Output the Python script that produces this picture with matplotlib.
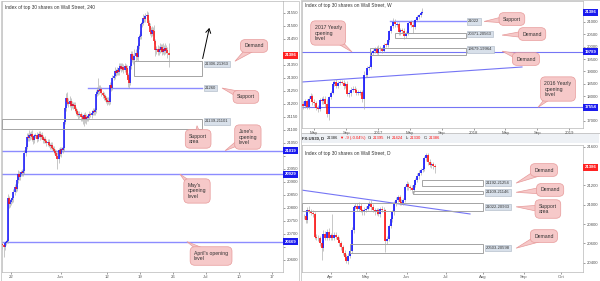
import numpy as np
import pandas as pd
import matplotlib
matplotlib.use("Agg")
import matplotlib.pyplot as plt
import matplotlib.dates as mdates
from matplotlib.transforms import blended_transform_factory, IdentityTransform
from matplotlib.patches import Rectangle, Polygon

plt.rcParams['font.family'] = ['Liberation Sans', 'DejaVu Sans']

# ------------------------------------------------------------------ data
TITLE = "Index of top 30 shares on Wall Street"

# 4-hour candles (open of first bar, then closes; wick sizes above/below body)
h4_open0 = 20660
h4_close = [
    20655, 20648, 20662, 20668, 20672, 20835, 20812, 20820, 20828, 20835,
    20858, 20880, 20872, 20905, 20930, 20918, 20928, 20935, 20932, 20940,
    21010, 21035, 21072, 21068, 21080, 21074, 21082, 21070, 21060, 21075,
    21078, 21065, 21080, 21084, 21072, 21078, 21070, 21060, 21062, 21055,
    21048, 21052, 21040, 21036, 21042, 21030, 21026, 21018, 21010, 21000,
    20985, 21020, 21008, 21025, 21020, 21028, 21130, 21185, 21222, 21205,
    21198, 21210, 21192, 21200, 21190, 21195, 21178, 21170, 21162, 21155,
    21160, 21150, 21148, 21140, 21155, 21138, 21150, 21145, 21152, 21160,
    21158, 21165, 21172, 21168, 21175, 21238, 21245, 21252, 21248, 21255,
    21240, 21232, 21228, 21222, 21215, 21205, 21212, 21208, 21270, 21262,
    21300, 21305, 21325, 21318, 21330, 21322, 21338, 21345, 21335, 21342,
    21330, 21345, 21338, 21310, 21290, 21280, 21345, 21392, 21372, 21368,
    21385, 21395, 21378, 21420, 21455, 21462, 21505, 21512, 21530, 21525,
    21538, 21542, 21510, 21500, 21475, 21468, 21482, 21478, 21440, 21405,
    21410, 21398, 21412, 21405, 21418, 21400, 21410, 21402, 21415, 21405,
    21395, 21386]
h4_upper = [
    8, 6, 10, 8, 6, 18, 10, 12, 8, 10,
    12, 10, 15, 20, 14, 12, 10, 8, 12, 10,
    10, 12, 15, 14, 20, 10, 12, 18, 10, 8,
    10, 12, 8, 10, 12, 10, 14, 8, 10, 12,
    8, 10, 12, 8, 10, 12, 8, 10, 8, 10,
    12, 10, 12, 8, 10, 8, 12, 10, 18, 22,
    15, 20, 12, 10, 8, 12, 10, 8, 10, 8,
    10, 8, 12, 10, 8, 12, 10, 8, 10, 12,
    8, 10, 12, 10, 8, 14, 18, 45, 20, 15,
    10, 8, 12, 10, 8, 10, 12, 8, 14, 12,
    10, 12, 15, 10, 12, 8, 18, 10, 12, 15,
    10, 12, 8, 10, 8, 12, 14, 10, 12, 20,
    25, 15, 30, 14, 12, 18, 10, 12, 15, 10,
    12, 14, 10, 12, 10, 20, 15, 12, 25, 10,
    12, 15, 10, 20, 12, 10, 25, 15, 20, 10,
    12, 38]
h4_lower = [
    15, 40, 10, 8, 6, 10, 12, 8, 10, 12,
    14, 10, 12, 8, 10, 12, 10, 8, 12, 10,
    12, 10, 8, 12, 10, 14, 10, 12, 15, 10,
    8, 12, 10, 8, 12, 10, 8, 12, 10, 8,
    12, 10, 8, 12, 10, 8, 10, 12, 8, 10,
    35, 12, 10, 12, 8, 10, 10, 8, 12, 10,
    12, 10, 15, 10, 12, 8, 10, 12, 10, 15,
    12, 18, 15, 20, 25, 12, 15, 10, 12, 10,
    10, 12, 8, 10, 12, 10, 8, 12, 10, 8,
    12, 10, 14, 10, 12, 10, 8, 12, 10, 12,
    10, 8, 12, 10, 8, 12, 10, 8, 12, 10,
    12, 10, 15, 10, 25, 18, 10, 12, 10, 15,
    12, 20, 10, 12, 10, 8, 12, 10, 8, 12,
    10, 12, 8, 10, 12, 10, 8, 12, 10, 20,
    15, 10, 12, 10, 8, 12, 10, 15, 10, 12,
    20, 45]
# number of 4h bars before each day label
h4_tick_labels = ["22", "Jun", "12", "19", "26", "Jul", "10", "17"]
h4_bars_between = [8, 45, 42, 30, 30, 30, 30, 30]

h4_month_opens = [21019, 20929, 20669]
h4_support = 21260
h4_demand = (21306, 21363)
h4_support_area = (21101, 21139)

# weekly candles
wk_start = "2016-03-14"
wk_open0 = 17550
wk_close = [
    17700, 17620, 17790, 17580, 17900, 18010, 17780, 17720, 17540, 17500,
    17860, 17800, 17870, 17680, 17300, 17950, 18150, 18500, 18570, 18430,
    18540, 18580, 18550, 18400, 18490, 18080, 18120, 18260, 18310, 18240,
    18140, 18150, 18160, 17880, 18850, 18870, 19150, 19170, 19760, 19840,
    19930, 19760, 19960, 19890, 19830, 20090, 20070, 20270, 20620, 20820,
    21000, 20900, 20910, 20600, 20660, 20650, 20450, 20550, 20940, 21000,
    20890, 20800, 21080, 21200, 21270, 21380, 21386]
wk_upper = [
    120, 100, 90, 110, 130, 120, 80, 100, 90, 110,
    80, 100, 120, 150, 200, 60, 80, 100, 90, 110,
    80, 70, 90, 110, 80, 120, 150, 100, 120, 90,
    110, 100, 80, 90, 150, 100, 80, 100, 60, 80,
    60, 80, 100, 90, 80, 70, 60, 50, 40, 60,
    170, 120, 100, 90, 110, 100, 120, 80, 60, 50,
    70, 150, 60, 80, 70, 60, 164]
wk_lower = [
    100, 120, 80, 110, 90, 100, 120, 100, 90, 130,
    80, 110, 100, 120, 150, 240, 80, 70, 90, 100,
    80, 90, 70, 100, 80, 90, 120, 100, 90, 80,
    100, 90, 110, 100, 410, 80, 90, 100, 60, 80,
    90, 70, 100, 80, 90, 60, 80, 70, 60, 50,
    80, 120, 100, 110, 130, 90, 120, 100, 80, 70,
    90, 250, 80, 60, 70, 80, 60]
wk_yearly_opens = [19789, 17554]
wk_support = 21022
wk_demand = [(20371, 20563), (19679, 19964)]
wk_trend = [("2016-03-16", 18576), ("2018-07-04", 19182)]
wk_tick_dates = ["2016-05-01", "2016-09-01", "2017-01-01", "2017-05-01", "2017-09-01",
                 "2018-01-01", "2018-05-01", "2018-09-01", "2019-01-01"]
wk_tick_labels = ["May", "Sep", "2017", "May", "Sep", "2018", "May", "Sep", "2019"]

# daily candles
d_start = "2017-03-13"
d_open0 = 20880
d_close = [
    20885, 20840, 20950, 20934, 20915, 20905, 20670, 20660, 20655, 20600,
    20550, 20700, 20660, 20720, 20660, 20690, 20660, 20690, 20670, 20640,
    20600, 20560, 20500, 20460, 20420, 20470, 20520, 20740, 20980, 20990,
    20960, 20985, 20940, 20920, 20950, 20960, 20990, 21020, 20980, 20950,
    20920, 20940, 20900, 20960, 20950, 20940, 20620, 20650, 20780, 20850,
    20920, 21010, 21050, 21080, 21030, 21020, 21050, 21180, 21210, 21180,
    21170, 21150, 21200, 21260, 21300, 21330, 21360, 21370, 21480, 21510,
    21440, 21410, 21420, 21395, 21386]
d_upper = [
    20, 30, 25, 35, 20, 30, 15, 25, 30, 20,
    25, 40, 30, 25, 35, 20, 210, 30, 25, 20,
    30, 25, 20, 30, 25, 30, 20, 25, 20, 30,
    25, 40, 30, 20, 25, 30, 25, 20, 30, 25,
    20, 30, 25, 20, 30, 25, 20, 30, 25, 20,
    30, 25, 30, 20, 25, 30, 20, 25, 30, 25,
    20, 30, 25, 20, 25, 30, 20, 25, 20, 25,
    20, 30, 25, 20, 29]
d_lower = [
    30, 25, 30, 20, 25, 30, 20, 25, 30, 30,
    120, 25, 30, 20, 25, 30, 25, 30, 20, 25,
    30, 25, 20, 30, 25, 30, 25, 20, 30, 25,
    30, 25, 20, 30, 25, 30, 20, 25, 30, 25,
    30, 25, 20, 30, 25, 30, 110, 25, 30, 20,
    25, 30, 25, 20, 30, 25, 20, 25, 30, 25,
    20, 30, 25, 20, 25, 30, 20, 25, 20, 30,
    25, 20, 30, 25, 56]
d_zones = [(21192, 21254), (21109, 21146), (20933, 21022), (20503, 20598)]
d_zone_labels = ["21192-21254", "21109-21146", "21022-20933", "20503-20598"]
d_trend = [(-1.7, 21152), (93.8, 20904)]

# ------------------------------------------------------------------ style
BLUE = "#1010ff"
RED = "#ff1010"
WICK = "#a8a8a8"
LEVEL = "#8c8cff"
BOX_EDGE = "#a4a4a4"
SPINE = "#b8b8b8"
TXT = "#333333"
PINK = "#f6c9c9"
PINK_EDGE = "#e79a9a"
TAG_BLUE = "#1a1aee"
TAG_RED = "#ff2222"

W, H = 600, 281
fig = plt.figure(figsize=(W / 100, H / 100), dpi=100)
fig.patch.set_facecolor("white")


def px_axes(x0, y0, x1, y1):
    """Axes from pixel box (top-left origin)."""
    return fig.add_axes([x0 / W, 1 - y1 / H, (x1 - x0) / W, (y1 - y0) / H])


def fig_rect(x0, y0, x1, y1, **kw):
    fig.patches.append(Rectangle((x0 / W, 1 - y1 / H), (x1 - x0) / W, (y1 - y0) / H,
                                 transform=fig.transFigure, figure=fig, **kw))


def ohlc(open0, close, upper, lower):
    c = np.asarray(close, float)
    o = np.concatenate([[open0], c[:-1]])
    hi = np.maximum(o, c) + np.asarray(upper, float)
    lo = np.minimum(o, c) - np.asarray(lower, float)
    return o, hi, lo, c


def candles(ax, x, o, hi, lo, c, body_lw, min_h, wick_lw=0.45):
    x = np.asarray(x, float)
    up = c >= o
    ax.vlines(x, lo, hi, color=WICK, lw=wick_lw, zorder=2)
    bot = np.minimum(o, c)
    top = np.maximum(o, c)
    short = (top - bot) < min_h
    mid = (top + bot) / 2
    bot = np.where(short, mid - min_h / 2, bot)
    top = np.where(short, mid + min_h / 2, top)
    ax.vlines(x[up], bot[up], top[up], color=BLUE, lw=body_lw, zorder=3,
              capstyle="butt")
    ax.vlines(x[~up], bot[~up], top[~up], color=RED, lw=body_lw, zorder=3,
              capstyle="butt")


def style_axes(ax, title, title_y=0.985):
    for s in ax.spines.values():
        s.set_color(SPINE)
        s.set_linewidth(0.5)
    ax.yaxis.tick_right()
    ax.tick_params(axis="y", length=1.2, width=0.4, pad=1.2, labelsize=3.1,
                   colors="#555555")
    ax.tick_params(axis="x", length=1.2, width=0.4, pad=0.8, labelsize=3.1,
                   colors="#555555")
    ax.text(0.011, title_y, title, transform=ax.transAxes, fontsize=3.4, color=TXT,
            va="top", ha="left", zorder=7)


def y_ticks(ax, ticks, tags, min_px=5.0):
    """Right-hand price scale; labels hidden where a price tag sits on top."""
    lo, hi = ax.get_ylim()
    px_per_unit = ax.get_window_extent().height / (hi - lo)
    ax.set_yticks(ticks)
    labels = []
    for t in ticks:
        near = any(abs(t - g) * px_per_unit < min_px for g in tags)
        labels.append("" if near else f"{t:.0f}")
    ax.set_yticklabels(labels)


def price_tag(ax, value, color):
    tr = blended_transform_factory(ax.transAxes, ax.transData)
    ax.text(1.006, value, f"{value:.0f}", transform=tr, ha="left", va="center",
            fontsize=3.1, color="white", fontweight="bold", clip_on=False, zorder=8,
            bbox=dict(boxstyle="square,pad=0.35", fc=color, ec=color, lw=0))


def range_label(ax, text, xf, y):
    tr = blended_transform_factory(ax.transAxes, ax.transData)
    ax.text(xf, y, text, transform=tr, ha="left", va="center", fontsize=3.0,
            color=TXT, clip_on=False, zorder=6,
            bbox=dict(boxstyle="square,pad=0.3", fc="#d8e0ea", ec="#a9b5c3", lw=0.4))


def zone_box(ax, xf0, xf1, lo, hi):
    tr = blended_transform_factory(ax.transAxes, ax.transData)
    ax.add_patch(Rectangle((xf0, lo), xf1 - xf0, hi - lo, transform=tr, fill=False,
                           ec=BOX_EDGE, lw=0.7, zorder=4))


def callout(ax, text, target, text_pos, base=9.0):
    """Pink note box with a tapering pointer towards (x fraction, price)."""
    ax.text(text_pos[0], text_pos[1], text, transform=ax.transAxes,
            ha="center", va="center", multialignment="left",
            fontsize=3.7, color=TXT, clip_on=False, zorder=9,
            bbox=dict(boxstyle="round,pad=0.75,rounding_size=0.9", fc=PINK,
                      ec=PINK_EDGE, lw=0.5))
    tr = blended_transform_factory(ax.transAxes, ax.transData)
    p0 = np.asarray(tr.transform(target))
    p1 = np.asarray(ax.transAxes.transform(text_pos))
    d = p0 - p1
    n = np.array([-d[1], d[0]]) / np.hypot(*d) * base / 2
    ax.add_patch(Polygon([p1 + n, p1 - n, p0], closed=True, transform=IdentityTransform(),
                         fc=PINK, ec=PINK_EDGE, lw=0.5, zorder=8.5, clip_on=False))


# panel frames and header strip
fig_rect(301, 133, 599, 143, fc="#eef1f5", ec="none", zorder=-1)
fig_rect(0.5, 0.5, 298.5, 280.5, fill=False, ec="#c8c8c8", lw=0.6, zorder=-1)
fig_rect(300.5, 0.5, 599.5, 133, fill=False, ec="#c8c8c8", lw=0.6, zorder=-1)
fig_rect(300.5, 133, 599.5, 280.5, fill=False, ec="#c8c8c8", lw=0.6, zorder=-1)

# ------------------------------------------------------------------ 4h panel
ax1 = px_axes(2, 1, 283, 272)
o, hi, lo, c = ohlc(h4_open0, h4_close, h4_upper, h4_lower)
x4 = np.arange(len(c))
candles(ax1, x4, o, hi, lo, c, body_lw=1.1, min_h=3)
ax1.set_xlim(-0.45, 255)
ax1.set_ylim(20552, 21595)
y_ticks(ax1, np.arange(20600, 21551, 50), h4_month_opens + [c[-1]])
ax1.set_xticks(np.cumsum(h4_bars_between))
ax1.set_xticklabels(h4_tick_labels)
style_axes(ax1, f"{TITLE}, 240")

for lvl in h4_month_opens:
    ax1.axhline(lvl, color=LEVEL, lw=1.0, zorder=1)
    price_tag(ax1, lvl, TAG_BLUE)
ax1.axhline(h4_support, xmin=0.306, xmax=0.712, color=LEVEL, lw=1.0, zorder=1)
zone_box(ax1, 0.470, 0.712, *h4_demand)
zone_box(ax1, 0.0, 0.712, *h4_support_area)
range_label(ax1, f"{h4_demand[0]}-{h4_demand[1]}", 0.722,
            h4_demand[1] - 0.2 * (h4_demand[1] - h4_demand[0]))
range_label(ax1, f"{h4_support}", 0.722, h4_support)
range_label(ax1, f"{h4_support_area[1]}-{h4_support_area[0]}", 0.722,
            h4_support_area[1] - 0.2 * (h4_support_area[1] - h4_support_area[0]))
ax1.annotate("", xy=(0.740, 21502), xycoords=("axes fraction", "data"),
             xytext=(0.712, h4_demand[1]), textcoords=("axes fraction", "data"),
             arrowprops=dict(arrowstyle="->,head_length=0.5,head_width=0.3",
                             color="black", lw=0.7, mutation_scale=6),
             annotation_clip=False, zorder=8)
price_tag(ax1, c[-1], TAG_RED)

callout(ax1, "Demand", (0.829, 21363), (0.897, 0.834))
callout(ax1, "Support", (0.783, h4_support), (0.868, 0.646))
callout(ax1, "Support\narea", (0.694, 21115), (0.698, 0.491))
callout(ax1, "June's\nopening\nlevel", (0.794, h4_month_opens[0]), (0.875, 0.498))
callout(ax1, "May's\nopening\nlevel", (0.633, h4_month_opens[1]), (0.694, 0.299))
callout(ax1, "April's opening\nlevel", (0.658, h4_month_opens[2]), (0.744, 0.059))

# ------------------------------------------------------------------ weekly panel
ax2 = px_axes(302, 1, 583, 128)
o, hi, lo, c = ohlc(wk_open0, wk_close, wk_upper, wk_lower)
xw = mdates.date2num(pd.date_range(wk_start, periods=len(c), freq="7D"))
candles(ax2, xw, o, hi, lo, c, body_lw=1.2, min_h=25)
ax2.set_xlim(mdates.date2num(pd.Timestamp("2016-03-16")),
             mdates.date2num(pd.Timestamp("2019-02-22")))
ax2.set_ylim(16717, 21848)
y_ticks(ax2, np.arange(17000, 21001, 500), wk_yearly_opens + [c[-1]])
ax2.set_xticks(mdates.date2num(pd.to_datetime(wk_tick_dates)))
ax2.set_xticklabels(wk_tick_labels)
style_axes(ax2, f"{TITLE}, W")

for lvl in wk_yearly_opens:
    ax2.axhline(lvl, color="#7575f5", lw=0.8, zorder=1)
    price_tag(ax2, lvl, TAG_BLUE)
ax2.axhline(wk_support, xmin=0.313, xmax=0.584, color=LEVEL, lw=1.0, zorder=1)
zone_box(ax2, 0.331, 0.584, *wk_demand[0])
zone_box(ax2, 0.242, 0.584, *wk_demand[1])
range_label(ax2, f"{wk_support}", 0.591, wk_support)
for lo_, hi_ in wk_demand:
    range_label(ax2, f"{lo_}-{hi_}", 0.591, hi_ - 0.25 * (hi_ - lo_))
tx = mdates.date2num(pd.to_datetime([p[0] for p in wk_trend]))
ax2.plot(tx, [p[1] for p in wk_trend], color="#7575f5", lw=0.8, zorder=1)
price_tag(ax2, c[-1], TAG_BLUE)

callout(ax2, "Support", (0.648, wk_support), (0.747, 0.858))
callout(ax2, "Demand", (0.712, 20470), (0.819, 0.740))
callout(ax2, "Demand", (0.712, 19820), (0.797, 0.543))
callout(ax2, "2017 Yearly\nopening\nlevel", (0.178, wk_yearly_opens[0]), (0.093, 0.748))
callout(ax2, "2016 Yearly\nopening\nlevel", (0.840, wk_yearly_opens[1]), (0.911, 0.307))

# ------------------------------------------------------------------ daily panel
ax3 = px_axes(302, 145, 583, 272)
o, hi, lo, c = ohlc(d_open0, d_close, d_upper, d_lower)
xd = np.arange(len(c))
candles(ax3, xd, o, hi, lo, c, body_lw=1.2, min_h=5)
ax3.set_xlim(-1.1, 157.6)
ax3.set_ylim(20304, 21617)
y_ticks(ax3, np.arange(20400, 21601, 200), [c[-1]])
bdays = pd.bdate_range(d_start, "2017-10-31")
first = [i for i in range(1, len(bdays)) if bdays[i].month != bdays[i - 1].month]
ax3.set_xticks(first)
ax3.set_xticklabels([bdays[i].strftime("%b") for i in first])
style_axes(ax3, f"{TITLE}, D", title_y=0.95)

zone_x0 = [0.426, 0.395, 0.0, 0.171]
for (lo_, hi_), lab, x0 in zip(d_zones, d_zone_labels, zone_x0):
    zone_box(ax3, x0, 0.645, lo_, hi_)
    range_label(ax3, lab, 0.655, (lo_ + hi_) / 2)
ax3.plot([p[0] for p in d_trend], [p[1] for p in d_trend], color="#7575f5",
         lw=0.8, zorder=1)
price_tag(ax3, c[-1], TAG_RED)

callout(ax3, "Demand", (0.762, 21223), (0.861, 0.803))
callout(ax3, "Demand", (0.762, 21128), (0.883, 0.646))
callout(ax3, "Support\narea", (0.762, 20978), (0.875, 0.496))
callout(ax3, "Demand", (0.762, 20550), (0.861, 0.283))

# header line with the last daily bar
chg = c[-1] - o[-1]
pct = chg / o[-1] * 100
hdr = ax3.annotate("FX:US30, D", xy=(302 / W, 1 - 138 / H), xycoords="figure fraction",
                   fontsize=3.0, fontweight="bold", color="#222222", va="center",
                   ha="left", annotation_clip=False, zorder=10)
parts = [(f"{c[-1]:.0f}", "#222222", 2.2), ("\u25BC", RED, 0.8),
         (f"{chg:+.0f} ({pct:+.2f}%)", RED, 0.8), ("O:", "#222222", 1.8),
         (f"{o[-1]:.0f}", RED, 0.6), ("H:", "#222222", 1.8), (f"{hi[-1]:.0f}", RED, 0.6),
         ("L:", "#222222", 1.8), (f"{lo[-1]:.0f}", RED, 0.6), ("C:", "#222222", 1.8),
         (f"{c[-1]:.0f}", RED, 0.6)]
prev = hdr
for s, col, gap in parts:
    prev = ax3.annotate(s, xy=(1, 0.5), xycoords=prev, xytext=(gap, 0),
                        textcoords="offset points", fontsize=3.0, color=col,
                        va="center", ha="left", annotation_clip=False, zorder=10,
                        family=["Liberation Sans", "DejaVu Sans"])

fig.savefig("out.png", dpi=100, facecolor="white")
